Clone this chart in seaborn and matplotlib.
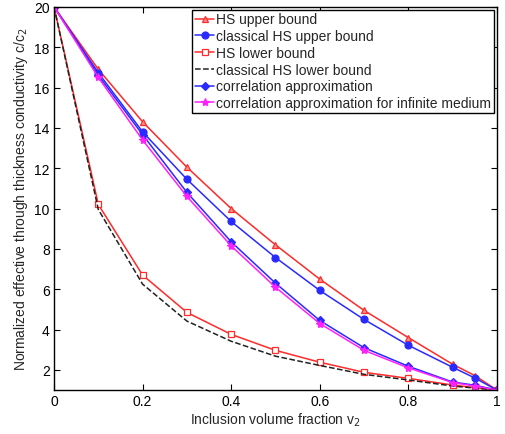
import matplotlib
matplotlib.use("Agg")
import matplotlib.pyplot as plt
import seaborn as sns
import pandas as pd

sns.set_theme(style="ticks")
plt.rcParams['font.family'] = ['Liberation Sans', 'DejaVu Sans']

v2 = [0.0, 0.1, 0.2, 0.3, 0.4, 0.5, 0.6, 0.7, 0.8, 0.9, 0.95, 1.0]
hs_upper = [20.0, 16.9, 14.3, 12.05, 10.0, 8.2, 6.5, 4.95, 3.6, 2.28, 1.72, 1.0]
classical_hs_upper = [20.0, 16.73, 13.8, 11.45, 9.36, 7.57, 5.94, 4.5, 3.22, 2.13, 1.6, 1.0]
hs_lower = [20.0, 10.2, 6.7, 4.85, 3.76, 2.97, 2.38, 1.88, 1.58, 1.25, 1.12, 1.0]
classical_hs_lower = [20.0, 9.95, 6.25, 4.42, 3.42, 2.68, 2.22, 1.78, 1.5, 1.2, 1.1, 1.0]
correlation = [20.0, 16.6, 13.66, 10.8, 8.35, 6.3, 4.45, 3.1, 2.18, 1.4, 1.24, 1.0]
correlation_inf = [20.0, 16.5, 13.4, 10.6, 8.15, 6.1, 4.3, 2.97, 2.1, 1.37, 1.2, 1.0]

labels = ["HS upper bound", "classical HS upper bound", "HS lower bound",
          "classical HS lower bound", "correlation approximation",
          "correlation approximation for infinite medium"]
series = [hs_upper, classical_hs_upper, hs_lower, classical_hs_lower,
          correlation, correlation_inf]

styles = [
    dict(color="#ff2a2a", marker="^", ls="-", mfc="#ff9090", ms=5),
    dict(color="#2a2aff", marker="o", ls="-", mfc="#2a2aff", ms=5),
    dict(color="#ff2a2a", marker="s", ls="-", mfc="white", ms=4.5),
    dict(color="#222222", marker=None, ls="--", mfc="none", ms=0),
    dict(color="#2a2aff", marker="D", ls="-", mfc="#2a2aff", ms=4),
    dict(color="#ff20ff", marker="*", ls="-", mfc="#ff20ff", ms=6),
]

fig = plt.figure(figsize=(5.05, 4.35), dpi=100)
ax = fig.add_axes([0.107, 0.101, 0.877, 0.881])

for lab, vals, st in zip(labels, series, styles):
    df = pd.DataFrame({"v2": v2, "c": vals})
    sns.lineplot(data=df, x="v2", y="c", ax=ax, label=lab,
                 color=st["color"], linestyle=st["ls"], linewidth=1.1,
                 marker=st["marker"], markersize=st["ms"],
                 markerfacecolor=st["mfc"], markeredgecolor=st["color"],
                 markeredgewidth=0.9)

ax.set_xlim(0, 1)
ax.set_ylim(1, 20)
ax.set_xticks([0, 0.2, 0.4, 0.6, 0.8, 1])
ax.set_xticklabels(["0", "0.2", "0.4", "0.6", "0.8", "1"])
ax.set_yticks([2, 4, 6, 8, 10, 12, 14, 16, 18, 20])
ax.tick_params(direction="in", length=4, width=0.8, top=True, right=True,
               labelsize=10, colors="black", pad=3)
for s in ax.spines.values():
    s.set_visible(True)
    s.set_color("black")
    s.set_linewidth(1.0)

ax.set_xlabel("Inclusion volume fraction v$_2$", fontsize=10, labelpad=2)
ax.set_ylabel("Normalized effective through thickness conductivity c/c$_2$",
              fontsize=10, labelpad=3)

leg = ax.legend(loc="upper right", fontsize=10, frameon=True, fancybox=False,
                edgecolor="black", framealpha=1, handlelength=1.4,
                handletextpad=0.15, borderpad=0.2, labelspacing=0.2,
                borderaxespad=0.2)
leg.get_frame().set_linewidth(1.0)

fig.savefig("out.png", dpi=100, facecolor="white")
